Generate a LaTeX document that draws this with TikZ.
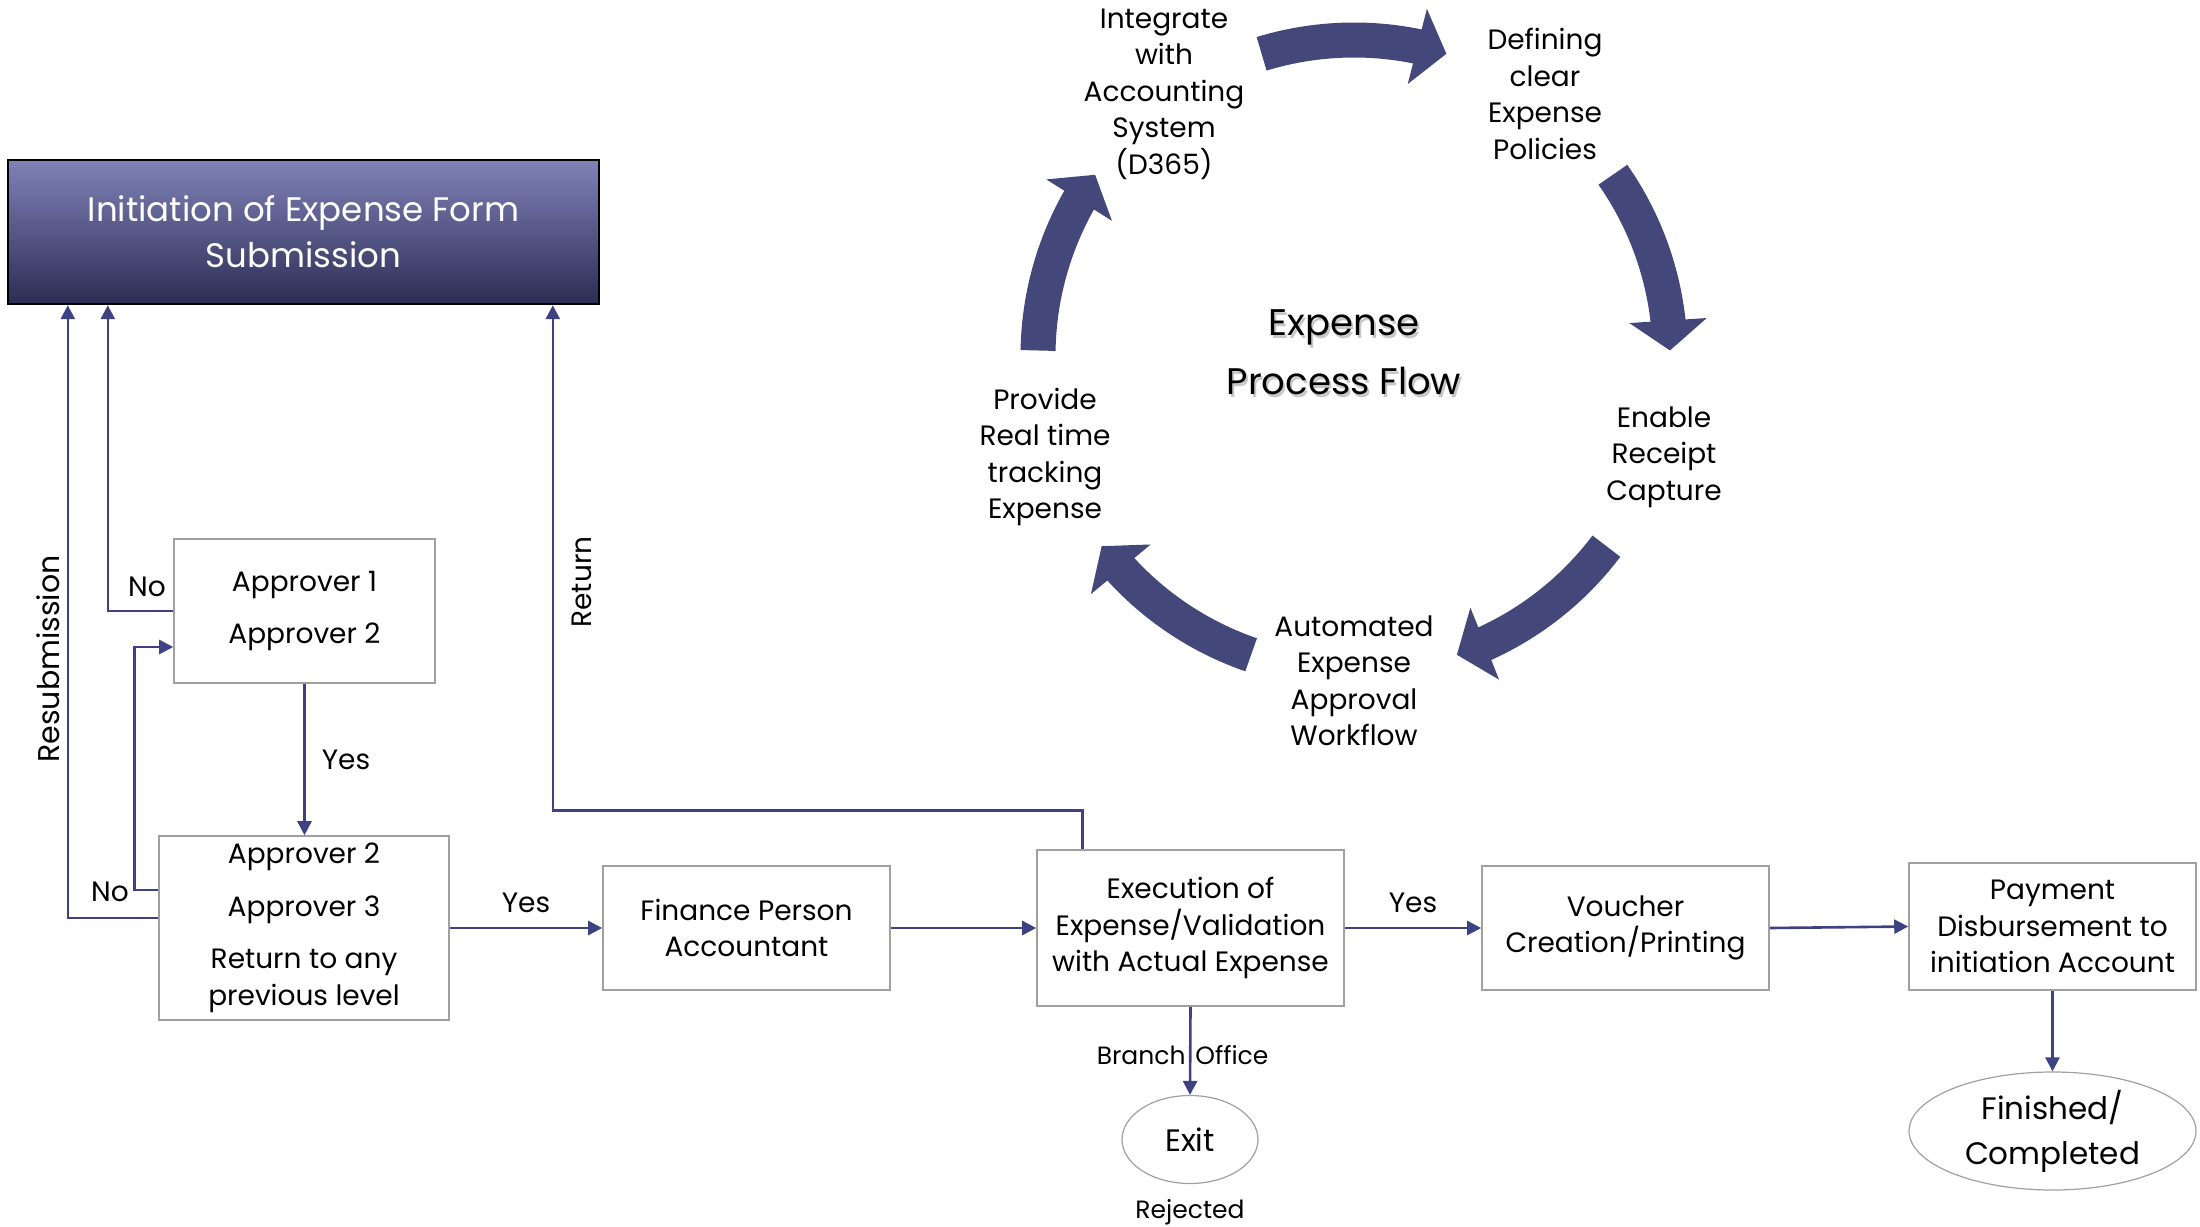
\documentclass[tikz,border=0pt]{standalone}
\usepackage{fontspec}
\setmainfont{Poppins}
\usetikzlibrary{arrows.meta,bending,shapes.geometric}
\definecolor{flowblue}{RGB}{62,65,130}
\definecolor{bandblue}{RGB}{67,71,122}
\definecolor{headtop}{RGB}{128,130,184}
\definecolor{headbot}{RGB}{44,45,84}
\definecolor{boxgray}{RGB}{160,160,160}

\begin{document}
\begin{tikzpicture}[x=0.5pt,y=-0.5pt,
 header/.style ={draw=black,line width=1.2pt,top color=headtop,bottom color=headbot,text=white,align=center,inner sep=0pt,font=\fontsize{17}{23}\selectfont},
 stage/.style ={draw=boxgray,line width=0.8pt,align=center,inner sep=0pt,font=\fontsize{14}{18.25}\selectfont},
 terminal/.style ={ellipse,draw=boxgray,line width=0.6pt,align=center,inner sep=0pt,font=\fontsize{15.5}{22.5}\selectfont},
 flow/.style ={draw=flowblue,line width=1.3pt,-{Triangle[length=7pt,width=7pt]}},
 edgetext/.style ={inner sep=0pt,font=\fontsize{14}{17}\selectfont},
 loopband/.style ={draw=bandblue,line width=17.5pt,-{Triangle[length=15pt,width=38pt]}},
 looptext/.style ={align=center,inner sep=0pt,font=\fontsize{14}{18.25}\selectfont}
 ]
\useasboundingbox (0,0) rectangle (2200,1226);
%draw start box
\node[header,minimum width=295.5pt,minimum height=72pt] (header) at (303.5,232) {Initiation of Expense Form\\Submission};
%draw approval boxes
\node[stage,minimum width=130.5pt,minimum height=72pt] (appA) at (304.5,611) {Approver 1\\[8pt]Approver 2};
\node[stage,minimum width=145pt,minimum height=92pt] (appB) at (304,928) {Approver 2\\[8pt]Approver 3\\[8pt]Return to any\\previous level};
%draw process boxes
\node[stage,minimum width=143.5pt,minimum height=62pt] (finance) at (746.5,928) {Finance Person\\Accountant};
\node[stage,minimum width=153.5pt,minimum height=78pt] (exec) at (1190.5,928) {Execution of\\Expense/Validation\\with Actual Expense};
\node[stage,minimum width=143.5pt,minimum height=62pt] (voucher) at (1625.5,928) {Voucher\\Creation/Printing};
\node[stage,minimum width=143.5pt,minimum height=63.5pt] (payment) at (2052.5,926.5) {Payment\\Disbursement to\\initiation Account};
%draw end states
\node[terminal,minimum width=68pt,minimum height=44pt] (exit) at (1190,1139.5) {Exit};
\node[terminal,minimum width=143.5pt,minimum height=59pt] (finished) at (2052.5,1131) {Finished/\\Completed};
\node[edgetext,font=\fontsize{12.5}{15}\selectfont] (rejected) at (1190,1212) {Rejected};
%draw main flow
\draw[flow] (appA.south) -- (appA.south |- appB.north) node[edgetext,midway,right=8pt] (yes1) {Yes};
\draw[flow] (appB.east) -- (finance.west) node[edgetext,midway,above=7pt] (yes2) {Yes};
\draw[flow] (finance.east) -- (exec.west);
\draw[flow] (exec.east) -- (voucher.west) node[edgetext,midway,above=7pt] (yes3) {Yes};
\draw[flow] (voucher.east) -- (payment.west);
\draw[flow] (payment.south) -- (finished.north);
\draw[flow] (exec.south) -- (exit.north);
\node[edgetext,font=\fontsize{12.5}{15}\selectfont] (branch) at (1190.5,1055) {\makebox[0pt][r]{Branch\hspace{2.5pt}}\makebox[0pt][l]{\hspace{2.5pt}Office}};
%draw returns to start
\draw[flow] ([yshift=5pt]appB.west) -| ([xshift=30.5pt]header.south west);
\draw[flow] (appA.west) -| ([xshift=50.5pt]header.south west);
\draw[flow] ([yshift=19pt]appB.west) -- ++(-24,0) |- ([yshift=-18pt]appA.west);
\draw[flow] ([xshift=23pt]exec.north west) -- ++(0,-39) -| ([xshift=273pt]header.south west);
\node[edgetext,anchor=south east] (no1) at ([xshift=-3.5pt,yshift=7pt]appA.west) {No};
\node[edgetext] (no2) at (110,892) {No};
\node[edgetext,rotate=90,font=\fontsize{15}{18}\selectfont] (resub) at (48,659) {Resubmission};
\node[edgetext,rotate=90] (return) at (582,582) {Return};
%draw cycle arrows
\draw[loopband] (1354,356) ++(-107:316) arc[start angle=-107,end angle=-73,radius=316];
\draw[loopband] (1354,356) ++(-35:316) arc[start angle=-35,end angle=-1,radius=316];
\draw[loopband] (1354,356) ++(37:316) arc[start angle=37,end angle=71,radius=316];
\draw[loopband] (1354,356) ++(109:316) arc[start angle=109,end angle=143,radius=316];
\draw[loopband] (1354,356) ++(-179:316) arc[start angle=-179,end angle=-145,radius=316];
%draw cycle texts
\node[looptext] (integrate) at (1164,94) {Integrate\\with\\Accounting\\System\\(D365)};
\node[looptext] (defining) at (1545,94) {Defining\\clear\\Expense\\Policies};
\node[looptext] (enable) at (1664,457) {Enable\\Receipt\\Capture};
\node[looptext] (automated) at (1354,681) {Automated\\Expense\\Approval\\Workflow};
\node[looptext] (provide) at (1045,457) {Provide\\Real time\\tracking\\Expense};
%draw cycle title
\node[looptext,text=black!22,font=\fontsize{18.5}{29.5}\selectfont] (titleshade) at (1346,355) {Expense\\Process Flow};
\node[looptext,font=\fontsize{18.5}{29.5}\selectfont] (title) at (1344,352.5) {Expense\\Process Flow};
\end{tikzpicture}
\end{document}
